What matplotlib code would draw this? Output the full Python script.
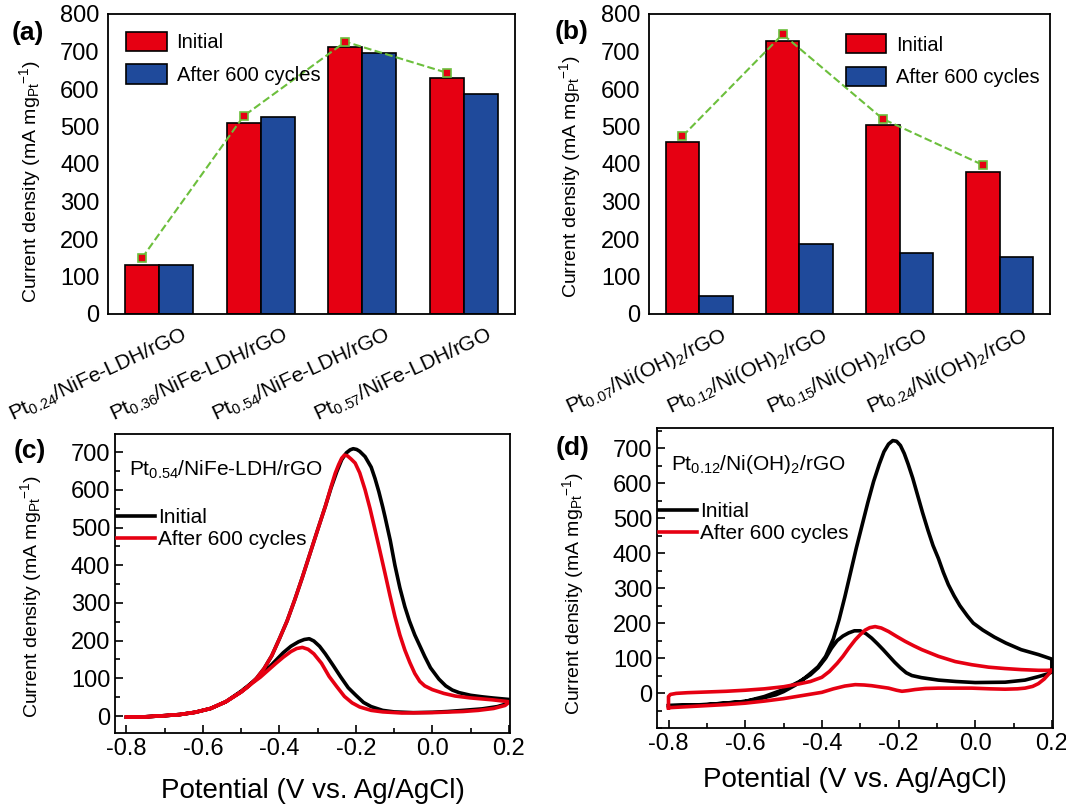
import matplotlib
matplotlib.use("Agg")
import matplotlib.pyplot as plt
import matplotlib.transforms as mtransforms
import numpy as np
from matplotlib.ticker import MultipleLocator

plt.rcParams['font.family'] = ['Liberation Sans', 'DejaVu Sans']
plt.rcParams['mathtext.default'] = 'regular'
plt.rcParams['axes.unicode_minus'] = False

RED = '#e60012'
BLUE = '#1f4a9b'
GREEN = '#6cbf3c'

# ---- (a) bars ----
cat_a = ['Pt$_{0.24}$/NiFe-LDH/rGO', 'Pt$_{0.36}$/NiFe-LDH/rGO',
         'Pt$_{0.54}$/NiFe-LDH/rGO', 'Pt$_{0.57}$/NiFe-LDH/rGO']
init_a = [131, 510, 712, 630]
after_a = [130, 525, 696, 588]
trend_a = [149, 528, 726, 643]

# ---- (b) bars ----
cat_b = ['Pt$_{0.07}$/Ni(OH)$_2$/rGO', 'Pt$_{0.12}$/Ni(OH)$_2$/rGO',
         'Pt$_{0.15}$/Ni(OH)$_2$/rGO', 'Pt$_{0.24}$/Ni(OH)$_2$/rGO']
init_b = [459, 729, 503, 380]
after_b = [49, 187, 164, 153]
trend_b = [474, 746, 520, 397]

# ---- (c) CV, Pt0.54/NiFe-LDH/rGO (forward then backward sweep) ----
c_init_x = [-0.80, -0.75, -0.70, -0.66, -0.62, -0.58, -0.54, -0.50, -0.48, -0.46, -0.44, -0.42,
            -0.40, -0.38, -0.36, -0.34, -0.32, -0.30, -0.28, -0.265, -0.25, -0.237, -0.225,
            -0.215, -0.207, -0.198, -0.19, -0.176, -0.16, -0.15, -0.14, -0.13, -0.124, -0.11,
            -0.098, -0.085, -0.072, -0.06, -0.046, -0.03, -0.02, -0.005, 0.017, 0.035, 0.052,
            0.07, 0.10, 0.13, 0.157, 0.20,
            0.20, 0.19, 0.17, 0.13, 0.08, 0.04, 0.0, -0.05, -0.10, -0.13, -0.16, -0.18, -0.20,
            -0.22, -0.24, -0.26, -0.28, -0.295, -0.31, -0.322, -0.335, -0.35, -0.37, -0.39,
            -0.41, -0.43, -0.45, -0.47, -0.50, -0.54, -0.58, -0.62, -0.66, -0.70, -0.75, -0.80]
c_init_y = [-3, -2, 1, 4, 10, 20, 38, 64, 80, 100, 126, 160,
            205, 252, 308, 368, 431, 494, 556, 605, 648, 680, 698,
            706, 709, 707, 702, 688, 660, 630, 595, 555, 529, 465,
            400, 340, 290, 252, 215, 180, 158, 128, 98, 80, 69,
            62, 55, 51, 48, 44,
            38, 31, 25, 19, 15, 12, 10, 9, 11, 15, 25, 36, 55,
            75, 104, 135, 165, 185, 199, 205, 203, 197, 185, 168,
            147, 126, 106, 90, 66, 38, 20, 10, 4, 1, -2, -3]
c_after_x = [-0.80, -0.75, -0.70, -0.66, -0.62, -0.58, -0.54, -0.50, -0.48, -0.46, -0.44, -0.42,
             -0.40, -0.38, -0.36, -0.34, -0.32, -0.30, -0.28, -0.265, -0.254, -0.245, -0.237,
             -0.23, -0.222, -0.212, -0.202, -0.19, -0.176, -0.163, -0.15, -0.137, -0.124, -0.111,
             -0.098, -0.085, -0.072, -0.059, -0.046, -0.033, -0.02, 0.0, 0.03, 0.06, 0.10, 0.157,
             0.20,
             0.20, 0.19, 0.16, 0.12, 0.08, 0.0, -0.08, -0.13, -0.16, -0.19, -0.21, -0.23, -0.25,
             -0.27, -0.29, -0.31, -0.325, -0.34, -0.355, -0.37, -0.39, -0.41, -0.43, -0.45, -0.47,
             -0.50, -0.54, -0.58, -0.62, -0.66, -0.70, -0.75, -0.80]
c_after_y = [-3, -2, 1, 4, 10, 20, 38, 64, 80, 100, 126, 160,
             205, 252, 308, 368, 431, 494, 556, 608, 644, 667, 684,
             692, 690, 681, 671, 645, 600, 550, 494, 437, 379, 320,
             264, 215, 175, 142, 113, 92, 80, 70, 60, 53, 48, 43,
             38,
             36, 28, 20, 15, 12, 9, 8, 11, 15, 24, 35, 52, 78,
             105, 140, 165, 177, 182, 179, 171, 156, 139, 121, 103, 88,
             64, 38, 20, 10, 4, 1, -2, -3]

# ---- (d) CV, Pt0.12/Ni(OH)2/rGO ----
d_init_x = [-0.80, -0.75, -0.70, -0.65, -0.60, -0.56, -0.52, -0.50, -0.47, -0.45, -0.43, -0.41,
            -0.39, -0.37, -0.355, -0.34, -0.325, -0.31, -0.295, -0.28, -0.265, -0.25, -0.238,
            -0.226, -0.215, -0.205, -0.195, -0.185, -0.175, -0.163, -0.15, -0.137, -0.123, -0.11,
            -0.096, -0.083, -0.07, -0.055, -0.04, -0.02, -0.005, 0.02, 0.05, 0.08, 0.12, 0.165,
            0.20,
            0.20, 0.19, 0.165, 0.13, 0.078, 0.0, -0.05, -0.096, -0.14, -0.165, -0.18, -0.195,
            -0.21, -0.225, -0.24, -0.255, -0.27, -0.285, -0.30, -0.315, -0.33, -0.345, -0.36,
            -0.375, -0.39, -0.41, -0.43, -0.46, -0.50, -0.55, -0.60, -0.70, -0.80]
d_init_y = [-36, -35, -33, -29, -24, -16, -5, 4, 22, 38, 56, 75,
            105, 155, 210, 275, 345, 415, 480, 545, 605, 655, 690,
            712, 722, 720, 708, 685, 655, 615, 565, 515, 465, 422,
            385, 345, 310, 278, 250, 220, 200, 180, 160, 143, 124, 110,
            97,
            60, 55, 47, 37, 31, 30, 33, 37, 44, 50, 58, 72,
            88, 106, 124, 141, 157, 170, 178, 178, 172, 163, 150,
            128, 100, 72, 52, 32, 10, -10, -24, -33, -36]
d_after_x = [-0.80, -0.75, -0.70, -0.65, -0.60, -0.55, -0.50, -0.45, -0.40, -0.37, -0.34, -0.313,
             -0.29, -0.27, -0.245, -0.226, -0.205, -0.191, -0.175, -0.157, -0.13, -0.096, -0.05,
             -0.009, 0.04, 0.078, 0.11, 0.13, 0.15, 0.165, 0.18, 0.19, 0.20,
             0.19, 0.165, 0.12, 0.078, 0.035, -0.009, -0.052, -0.096, -0.139, -0.16, -0.183,
             -0.205, -0.226, -0.245, -0.261, -0.275, -0.287, -0.30, -0.313, -0.33, -0.345, -0.36,
             -0.38, -0.40, -0.43, -0.46, -0.50, -0.55, -0.60, -0.65, -0.70, -0.75, -0.78, -0.795,
             -0.80, -0.80]
d_after_y = [-42, -39, -36, -33, -29, -23, -16, -7, 2, 12, 20, 24,
             23, 21, 17, 14, 8, 5, 7, 10, 13, 14, 14,
             14, 12, 11, 12, 14, 19, 27, 40, 52, 66,
             65, 65, 67, 70, 74, 81, 90, 105, 124, 135, 148,
             162, 176, 186, 190, 187, 180, 167, 152, 128, 105, 85,
             62, 45, 33, 26, 18, 12, 8, 5, 3, 1, -1, -4,
             -10, -42]

W, H = 1066, 807
fig = plt.figure(figsize=(W / 100, H / 100), dpi=100)


def box(l, t, r, b):
    return [l / W, 1 - b / H, (r - l) / W, (b - t) / H]


ylab = 'Current density (mA mg$_{Pt}$$^{-1}$)'


def style_spines(ax):
    for s in ax.spines.values():
        s.set_linewidth(1.3)


def bar_panel(rect, cats, init, after, trend, legloc, legbox, labx, laby):
    ax = fig.add_axes(rect)
    x = np.arange(len(cats))
    w = 1 / 3
    ax.bar(x - w / 2, init, w, color=RED, edgecolor='black', lw=1.2, label='Initial')
    ax.bar(x + w / 2, after, w, color=BLUE, edgecolor='black', lw=1.2, label='After 600 cycles')
    ax.plot(x - w / 2, trend, '--', color=GREEN, lw=1.5, marker='s', ms=6,
            mfc=RED, mec=GREEN, mew=1.2)
    ax.set_xlim(-0.5, 3.5)
    ax.set_ylim(0, 800)
    ax.set_yticks(range(0, 801, 100))
    ax.tick_params(axis='y', length=0, labelsize=17, pad=6)
    ax.tick_params(axis='x', length=0)
    ax.set_xticks(x)
    ax.set_xticklabels(cats, rotation=25, ha='right', rotation_mode='anchor', fontsize=15)
    off = mtransforms.ScaledTranslation(0.22, -0.05, fig.dpi_scale_trans)
    for t in ax.get_xticklabels():
        t.set_transform(t.get_transform() + off)
    ax.set_ylabel(ylab, fontsize=14)
    ax.yaxis.set_label_coords(labx, laby)
    style_spines(ax)
    ax.legend(loc=legloc, bbox_to_anchor=legbox, frameon=False, fontsize=14.5,
              handlelength=2.0, handleheight=1.1, labelspacing=0.6, handletextpad=0.5,
              borderaxespad=0)
    return ax


ax_a = bar_panel(box(108, 14, 515, 314), cat_a, init_a, after_a, trend_a,
                 'upper left', (0.025, 0.968), -0.16, 0.44)
ax_b = bar_panel(box(649, 14, 1050, 314), cat_b, init_b, after_b, trend_b,
                 'upper right', (0.995, 0.96), -0.165, 0.457)


def cv_panel(rect, xi, yi, xa, ya, ylim, title, legy, laby, xpad):
    ax = fig.add_axes(rect)
    ax.plot(xi, yi, color='black', lw=2.6, solid_joinstyle='round', label='Initial')
    ax.plot(xa, ya, color=RED, lw=2.6, solid_joinstyle='round', label='After 600 cycles')
    ax.set_xlim(-0.83, 0.203)
    ax.set_ylim(*ylim)
    ax.set_xticks([-0.8, -0.6, -0.4, -0.2, 0.0, 0.2])
    ax.xaxis.set_minor_locator(MultipleLocator(0.1))
    ax.set_yticks(range(0, 701, 100))
    ax.yaxis.set_minor_locator(MultipleLocator(50))
    ax.tick_params(which='both', direction='in', labelsize=17)
    ax.tick_params(which='major', length=6, width=1.2)
    ax.tick_params(which='minor', length=3.5, width=1.2)
    ax.set_xlabel('Potential (V vs. Ag/AgCl)', fontsize=20, labelpad=xpad)
    ax.set_ylabel(ylab, fontsize=14)
    ax.yaxis.set_label_coords(-0.18, laby)
    style_spines(ax)
    ax.text(0.035, 0.88, title, transform=ax.transAxes, fontsize=15, va='center')
    ax.legend(loc='upper left', bbox_to_anchor=(-0.015, legy), frameon=False, fontsize=15,
              handlelength=1.8, handletextpad=0.15, labelspacing=0.15, borderaxespad=0)
    return ax


ax_c = cv_panel(box(115, 434, 510, 733), c_init_x, c_init_y, c_after_x, c_after_y,
                (-45, 748), 'Pt$_{0.54}$/NiFe-LDH/rGO', 0.78, 0.455, 13)
ax_d = cv_panel(box(657, 428, 1053, 728), d_init_x, d_init_y, d_after_x, d_after_y,
                (-100, 758), 'Pt$_{0.12}$/Ni(OH)$_2$/rGO', 0.78, 0.447, 9)

for lab, px, py in [('(a)', 12, 33), ('(b)', 555, 32), ('(c)', 14, 451), ('(d)', 556, 448)]:
    fig.text(px / W, 1 - py / H, lab, fontsize=19, fontweight='bold', va='center')

fig.savefig('out.png', dpi=100)
